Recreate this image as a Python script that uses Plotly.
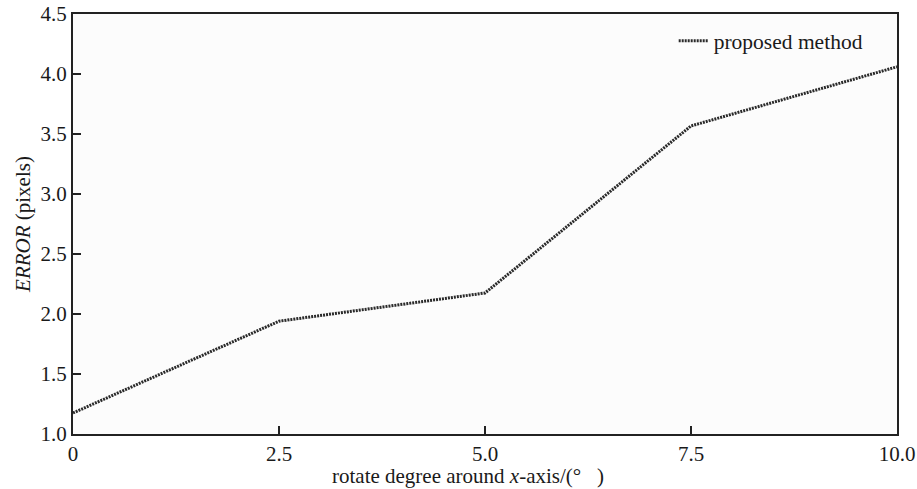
import plotly.graph_objects as go

x_deg = [0, 2.5, 5.0, 7.5, 10.0]
error_px = [1.175, 1.94, 2.175, 3.567, 4.06]
series_name = "proposed method"
x_ticks = [0, 2.5, 5.0, 7.5, 10.0]
x_ticklabels = ["0", "2.5", "5.0", "7.5", "10.0"]
y_ticks = [1.0, 1.5, 2.0, 2.5, 3.0, 3.5, 4.0, 4.5]
y_ticklabels = ["1.0", "1.5", "2.0", "2.5", "3.0", "3.5", "4.0", "4.5"]
x_title = "rotate degree around <i>x</i>-axis/(°   )"
y_title = "<i>ERROR</i> (pixels)"

font = "Liberation Serif, Times New Roman, serif"

fig = go.Figure()
fig.add_trace(go.Scatter(
    x=x_deg, y=error_px, mode="lines", name=series_name,
    line=dict(color="#2a2a2a", width=3, dash="2px,1px"),
))

fig.update_layout(
    template="none",
    width=917, height=489,
    margin=dict(l=73, r=20, t=14, b=55, autoexpand=False),
    paper_bgcolor="white", plot_bgcolor="#fcfcfc",
    font=dict(family=font, size=21, color="#1a1a1a"),
    showlegend=True,
    legend=dict(x=0.729, y=0.985, xanchor="left", yanchor="top",
                bgcolor="rgba(0,0,0,0)", font=dict(size=21.5, family=font),
                itemwidth=30),
    xaxis=dict(
        automargin=False,
        range=[0, 10], tickvals=x_ticks, ticktext=x_ticklabels,
        ticks="inside", ticklen=8, tickwidth=1.5, tickcolor="#222",
        showline=True, linecolor="#222", linewidth=2, mirror=True,
        showgrid=False, zeroline=False,
        tickfont=dict(size=21, family=font),
        ticklabelstandoff=0,
    ),
    yaxis=dict(
        automargin=False,
        range=[1.0, 4.5], tickvals=y_ticks, ticktext=y_ticklabels,
        ticks="inside", ticklen=8, tickwidth=1.5, tickcolor="#222",
        showline=True, linecolor="#222", linewidth=2, mirror=True,
        showgrid=False, zeroline=False,
        tickfont=dict(size=21, family=font),
        title=dict(text=y_title, standoff=4,
                   font=dict(size=21, family=font)),
        ticklabelstandoff=0,
    ),
    annotations=[dict(
        text=x_title, xref="paper", yref="paper", x=0.479, y=0,
        xanchor="center", yanchor="top", yshift=-28, showarrow=False,
        font=dict(size=21, family=font),
    )],
)

fig.write_html("out.html", post_script="document.body.style.margin='0';",
               config={"displayModeBar": False})
